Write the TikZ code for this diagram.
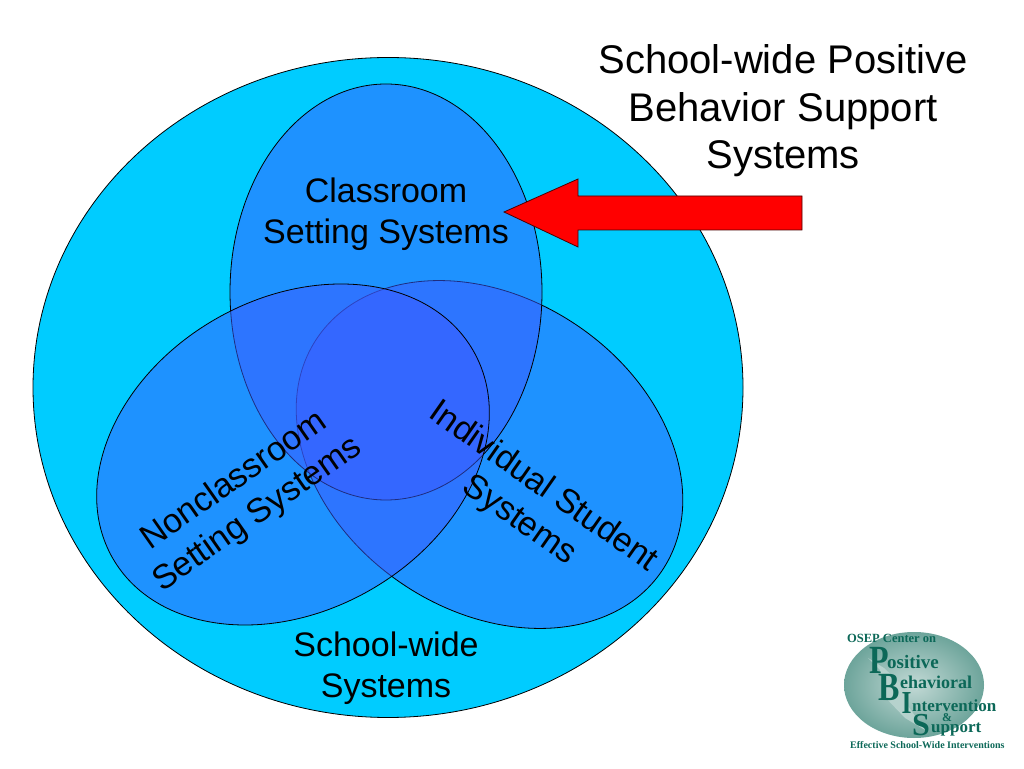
\documentclass[tikz,border=0pt]{standalone}
\usepackage{fontspec}
\setmainfont{Liberation Sans}
\newfontfamily\logofont{Liberation Serif}
\usepackage{xcolor}
\definecolor{schoolcyan}{RGB}{0,204,255}
\definecolor{setblue}{RGB}{60,90,255}
\definecolor{arrowred}{RGB}{255,0,0}
\definecolor{logoteal}{RGB}{12,104,88}
\tikzset{
  setfill/.style={fill=setblue,fill opacity=0.5,draw=black,line width=0.8pt},
  bigtext/.style={align=center,font=\fontsize{40}{47.5}\selectfont},
  settext/.style={align=center,font=\fontsize{34}{41}\selectfont},
  logobig/.style={text=logoteal,anchor=base,inner sep=0pt,transform shape,xscale=0.8,font=\logofont\bfseries\fontsize{40}{40}\selectfont},
  logosmall/.style={text=logoteal,anchor=base west,inner sep=0pt,font=\logofont\bfseries\fontsize{#1}{#1}\selectfont},
  logosmall/.default=18
}
\begin{document}
\begin{tikzpicture}[x=1pt,y=1pt]
\useasboundingbox (0,0) rectangle (1024,768);
\fill[white] (0,0) rectangle (1024,768);
\draw[fill=schoolcyan,line width=0.8pt] (388,380.5) ellipse [x radius=355,y radius=330];
% three sets
\draw[setfill,rotate around={56:(489.5,313.5)}] (489.5,313.5) ellipse [x radius=156,y radius=208];
\draw[setfill] (386,476) ellipse [x radius=156,y radius=208];
\draw[setfill,rotate around={-60:(293,313.5)}] (293,313.5) ellipse [x radius=156,y radius=208];
\draw[fill=arrowred,draw=black!70!red,line width=0.8pt] (504,556) -- (578,589) -- (578,572) -- (802,572) -- (802,538) -- (578,538) -- (578,521) -- cycle;
\node[bigtext] (title) at (783,657) {School-wide Positive\\Behavior Support\\Systems};
\node[settext] (classroom) at (386,553.5) {Classroom\\Setting Systems};
\node[settext,rotate=35] (nonclass) at (246,270) {Nonclassroom\\Setting Systems};
\node[settext,rotate=-35] (individual) at (531,264) {Individual Student\\Systems};
\node[settext] (schoolwide) at (386,100) {School-wide\\Systems};
% logo
\shade[inner color=logoteal!25,outer color=logoteal!60] (914,83) ellipse [x radius=70,y radius=53];
\fill[logoteal!30] (868,110) -- (880,98) -- (884,72) -- (905,50) -- (925,38) -- (908,62) -- (900,85) -- (884,100) -- cycle;
\node[logosmall=12.5] (osep) at (847,125) {OSEP Center on};
\node[logobig] (bigp) at (879,95) {P};
\node[logosmall=19] (positive) at (887,100) {ositive};
\node[logobig] (bigb) at (889,68) {B};
\node[logosmall] (behavioral) at (900,80) {ehavioral};
\node[logobig,font=\logofont\bfseries\fontsize{32}{32}\selectfont] (bigi) at (906.5,55) {I};
\node[logosmall=17] (intervention) at (912,57) {ntervention};
\node[logosmall=12] (amp) at (942,47) {\&};
\node[logobig,xscale=1.25,font=\logofont\bfseries\fontsize{32}{32}\selectfont] (bigs) at (921,33) {S};
\node[logosmall=17] (support) at (931,36) {upport};
\node[logosmall=10] (effective) at (850,20) {Effective School-Wide Interventions};
\end{tikzpicture}
\end{document}
